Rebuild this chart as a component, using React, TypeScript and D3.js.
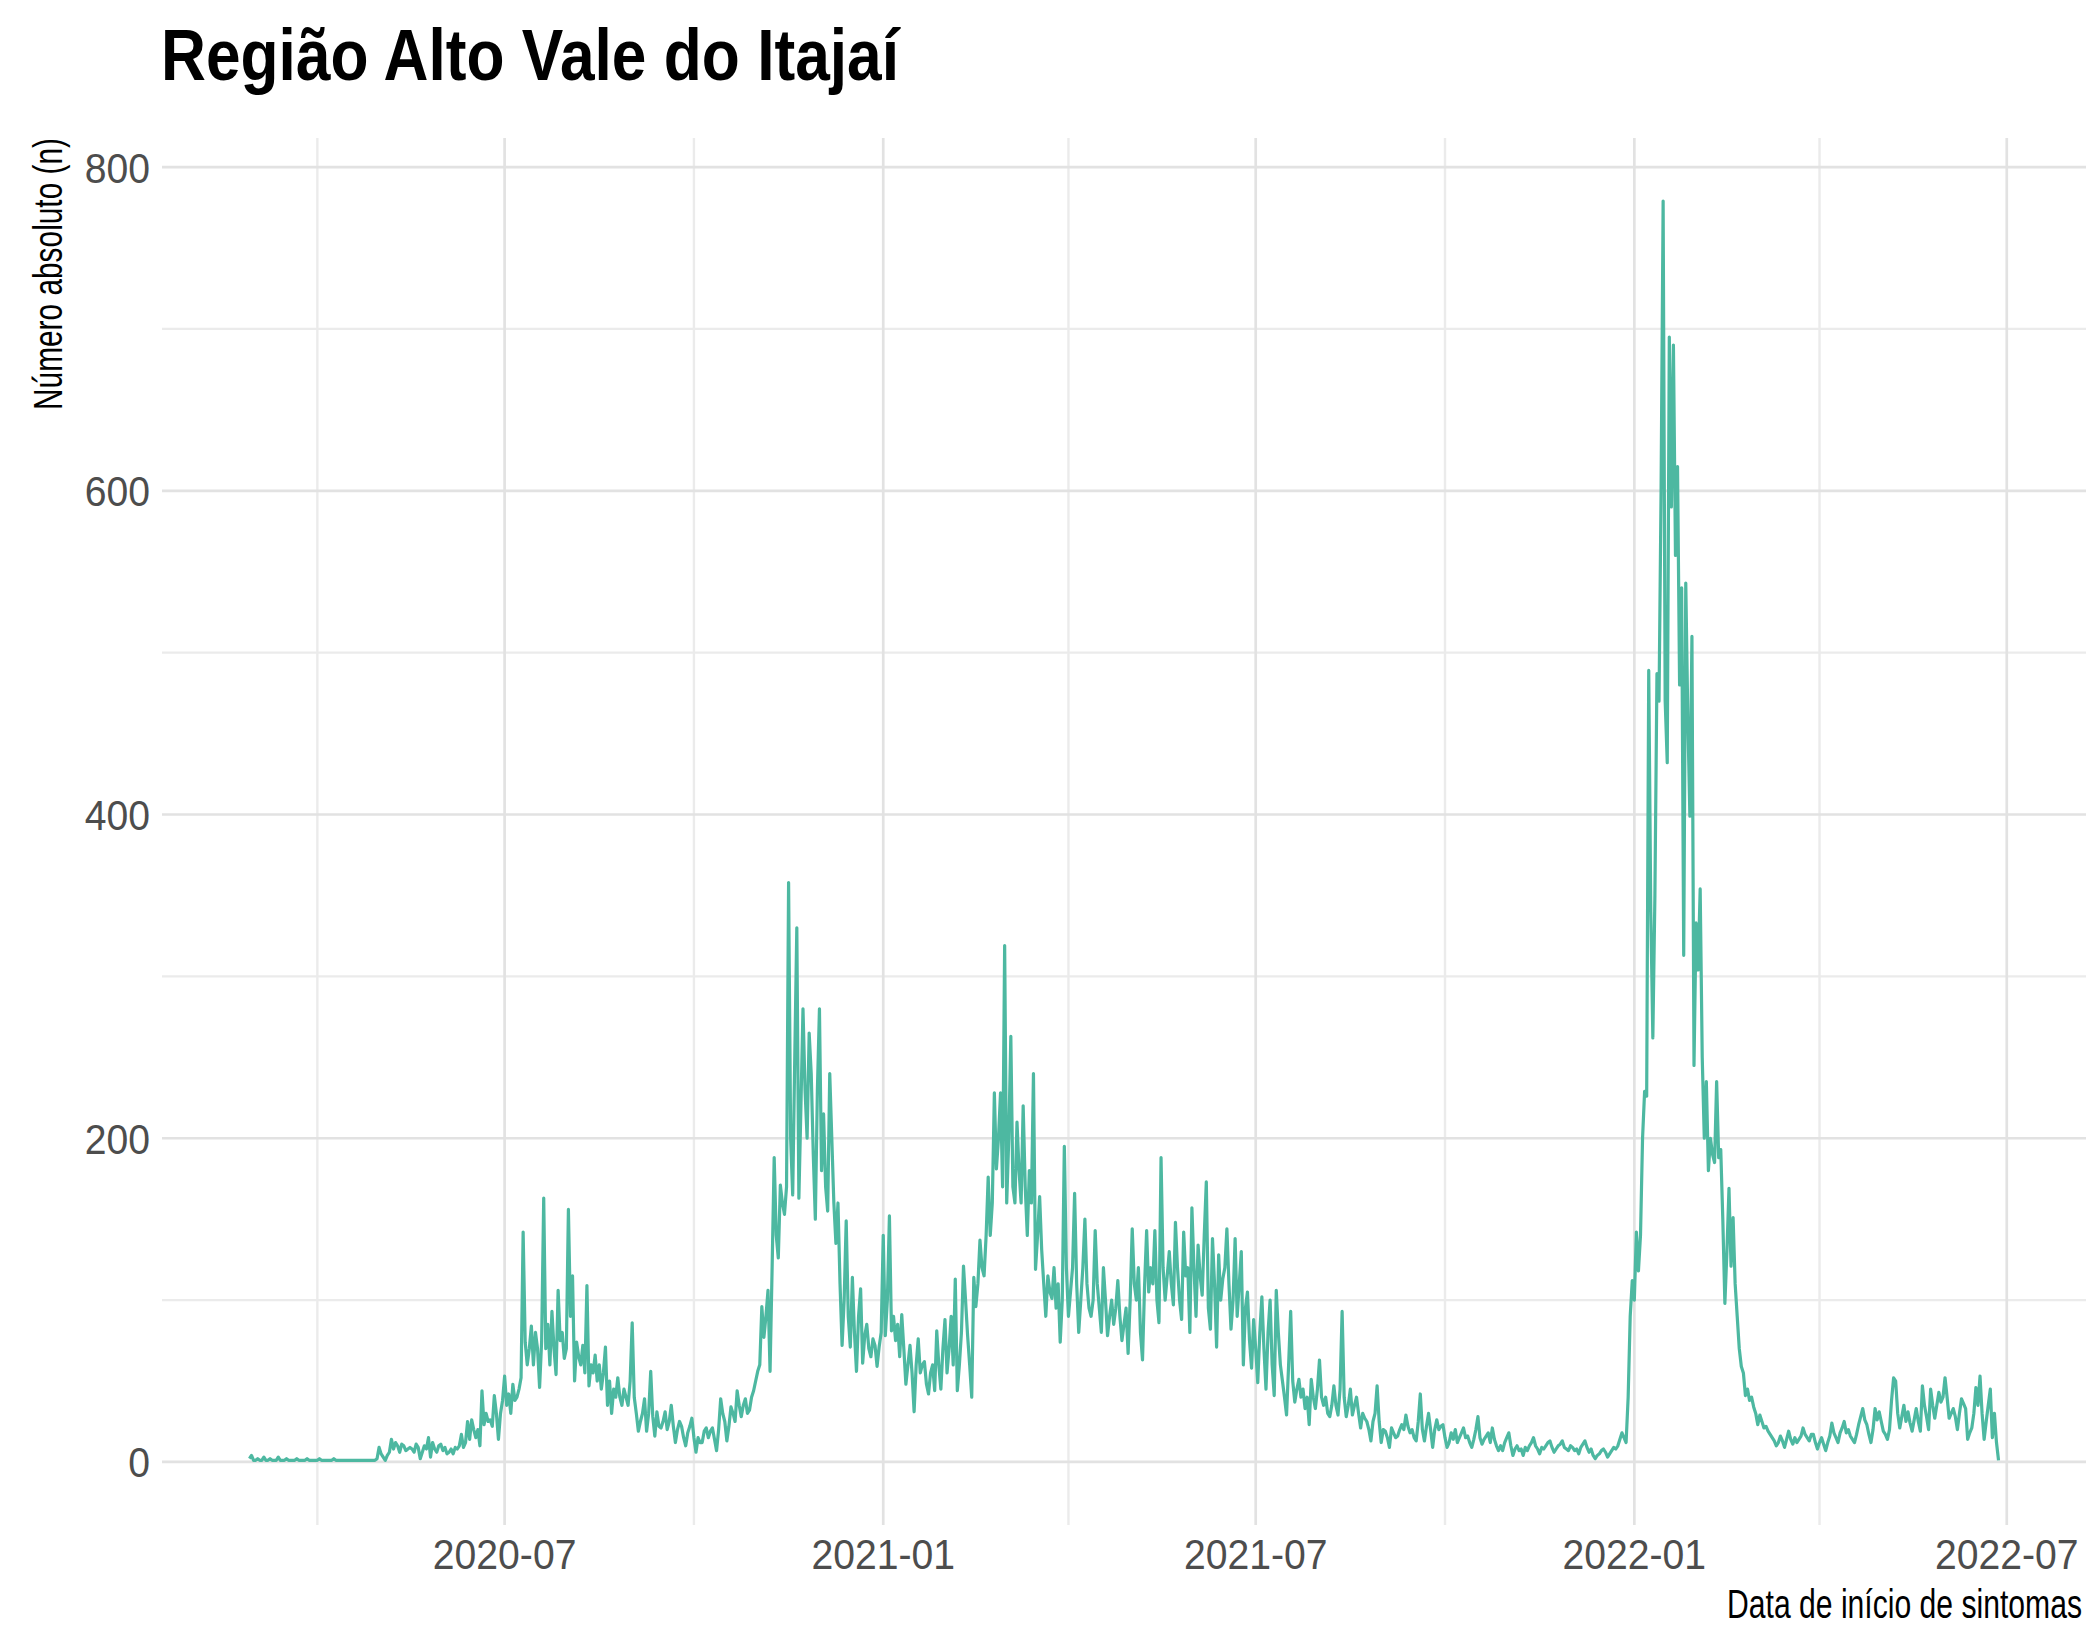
import React from "react";
import * as d3 from "d3";

// ---- data: daily counts, by period ----
const startA = "2020-02-28";
const casesA = [
  2,4,1,1,2,1,1,3,1,1, 2,1,1,1,3,1,1,1,2,1, 1,1,1,2,1,1,1,1,2,1, 1,1,1,1,2,1,1,1,1,1,
  1,2,1,1,1,1,1,1,1,1, 1,1,1,1,1,1,1,1,1,1, 1,1,
  2,9,5,3,1,4,6,14,8,12, 10,6,11,10,7,8,9,8,6,11, 9,2,6,10,8,15,3,12,8,6, 10,11,7,9,5,6,8,5,9,8,
  10,17,9,12,25,14,26,20,15,20, 10,44,23,30,25,26,22,41,30,14, 30,38,
];

const startB = "2020-07-01";
const casesB = [
  53,35,42,30,48,38,40,45,52,142, 74,60,70,84,60,80,70,46,75,163, 70,85,60,93,70,54,106,75,80,64,
  70,156,90,115,50,74,65,60,72,55, 109,47,60,55,66,50,60,45,55,71, 35,50,30,45,40,52,40,35,45,40,
  35,50,86,40,30,19,25,30,39,19, 30,56,28,16,31,22,21,25,31,20, 25,35,22,12,20,25,22,15,10,18,
  22,27,15,6,15,12,12,19,21,15, 19,21,14,7,20,39,30,25,13,22, 34,30,25,44,35,28,35,39,30,32,
  40,44,50,56,60,96,77,90,106,56, 120,188,140,126,171,160,153,170,358,200, 165,250,330,163,220,280,230,200,265,240,
  190,150,230,280,180,215,170,155,240,200, 160,135,160,110,72,100,149,90,71,114, 80,56,90,107,61,78,85,70,65,76,
  72,59,71,80,
];

const startC = "2021-01-01";
const casesC = [
  140,78,100,152,81,90,75,85,65,91, 70,48,60,72,55,31,60,76,55,60, 62,48,42,55,60,44,81,60,45,70,
  88,55,70,90,60,113,44,60,80,121, 100,78,60,40,114,96,110,137,120,115, 140,176,140,160,228,181,200,228,170,319,
  160,200,263,170,160,210,180,160,220,170, 140,180,160,240,119,140,164,131,110,90, 115,105,101,120,95,110,74,100,195,120,
  90,105,120,166,110,80,100,120,150,110, 95,90,100,143,110,95,80,120,100,78, 90,100,85,95,112,90,75,85,95,67,
  100,144,110,100,120,80,63,109,143,105, 120,110,143,100,86,188,120,100,115,130, 110,97,148,120,100,88,142,115,120,80,
  157,120,90,134,115,103,140,173,95,82, 138,110,71,128,100,113,120,144,110,82, 100,138,90,110,130,60,95,105,75,58,
  88,
];

const startD = "2021-07-01";
const casesD = [
  70,49,80,102,70,45,80,100,60,41, 106,80,60,50,40,29,60,93,50,37, 45,51,40,45,33,40,23,51,40,33,
  45,63,40,35,40,30,28,35,47,35, 29,45,93,40,28,35,45,29,35,40, 30,21,30,27,25,20,13,25,30,47,
  25,12,20,19,15,9,21,18,15,16, 20,23,20,29,22,18,20,15,13,25, 42,20,13,22,30,20,9,20,26,20,
  22,23,15,9,12,18,14,20,12,15, 18,21,15,16,12,9,14,20,28,15, 11,14,16,18,12,21,14,10,7,10,
  7,12,15,18,10,4,8,10,7,8, 4,9,7,10,12,15,10,8,5,9, 8,10,12,13,9,6,8,10,11,13,
  9,8,7,10,9,7,8,5,9,11, 13,9,6,8,4,2,4,5,7,8, 6,3,5,7,9,8,10,14,18,15,
  12,40,90,112,
];

const startE = "2022-01-01";
const casesE = [
  100,142,118,140,200,229,226,489,340,262, 350,487,470,600,779,470,432,695,590,690,
  560,615,480,540,313,543,460,399,510,245, 333,304,354,250,200,235,180,200,190,185,
  235,188,193,150,98,130,169,121,151,110, 90,70,59,55,41,45,38,40,34,30,
  23,29,25,21,22,19,17,15,13,10, 12,16,13,9,14,19,14,11,15,12, 14,16,21,17,15,13,17,17,12,8,
  12,15,11,7,12,16,24,18,15,12, 18,21,25,18,20,16,14,12,17,23, 28,33,26,23,17,12,20,33,26,31,
  25,19,17,14,20,38,52,50,30,21, 28,35,25,31,24,19,26,33,25,19, 47,35,28,20,45,35,27,35,43,37,
  40,52,40,27,30,33,28,20,30,39, 36,33,14,18,21,30,46,35,53,30, 14,25,35,45,15,30,12,1,
];

const periods: [string, number[]][] = [
  [startA, casesA], [startB, casesB], [startC, casesC], [startD, casesD], [startE, casesE],
];

const majorDates = ["2020-07-01", "2021-01-01", "2021-07-01", "2022-01-01", "2022-07-01"];
const minorDates = ["2020-04-01", "2020-10-01", "2021-04-01", "2021-10-01", "2022-04-01"];
const yMajor = [0, 200, 400, 600, 800];
const yMinor = [100, 300, 500, 700];

const title = "Região Alto Vale do Itajaí";
const xTitle = "Data de início de sintomas";
const yTitle = "Número absoluto (n)";

// ---- layout ----
const W = 2096, H = 1628;
const panel = { left: 162, right: 2086, top: 138, bottom: 1525 };
const lineColor = "#4DB8A1";
const font = "'Liberation Sans', Arial, Helvetica, sans-serif";

const parse = d3.utcParse("%Y-%m-%d");

type Pt = { date: Date; value: number };
const data: Pt[] = [];
periods.forEach(([s, vals]) => {
  const st = parse(s)!;
  vals.forEach((v, i) => data.push({ date: d3.utcDay.offset(st, i), value: v }));
});
data.sort((a, b) => +a.date - +b.date);

const [dMin, dMax] = d3.extent(data, (d) => +d.date) as [number, number];
const dPad = (dMax - dMin) * 0.05;
const x = d3.scaleUtc().domain([new Date(dMin - dPad), new Date(dMax + dPad)]).range([panel.left, panel.right]);
const vMax = d3.max(data, (d) => d.value)!;
const vPad = vMax * 0.05;
const y = d3.scaleLinear().domain([-vPad, vMax + vPad]).range([panel.bottom, panel.top]);

const line = d3.line<Pt>().x((d) => x(d.date)).y((d) => y(d.value));
const fmt = d3.utcFormat("%Y-%m");

export default function App() {
  return (
    <svg width={W} height={H} style={{ position: "absolute", left: 0, top: 0, background: "#fff" }} fontFamily={font}>
      <rect x={0} y={0} width={W} height={H} fill="#fff" />
      {/* minor grid */}
      {yMinor.map((v) => (
        <line key={"ym" + v} x1={panel.left} x2={panel.right} y1={y(v)} y2={y(v)} stroke="#EBEBEB" strokeWidth={2.4} />
      ))}
      {minorDates.map((s) => (
        <line key={"xm" + s} x1={x(parse(s)!)} x2={x(parse(s)!)} y1={panel.top} y2={panel.bottom} stroke="#EBEBEB" strokeWidth={2.4} />
      ))}
      {/* major grid */}
      {yMajor.map((v) => (
        <line key={"yM" + v} x1={panel.left} x2={panel.right} y1={y(v)} y2={y(v)} stroke="#E2E2E2" strokeWidth={2.7} />
      ))}
      {majorDates.map((s) => (
        <line key={"xM" + s} x1={x(parse(s)!)} x2={x(parse(s)!)} y1={panel.top} y2={panel.bottom} stroke="#E2E2E2" strokeWidth={2.7} />
      ))}
      {/* series */}
      <path d={line(data)!} fill="none" stroke={lineColor} strokeWidth={3.2} strokeLinejoin="round" />
      {/* y tick labels */}
      {yMajor.map((v) => (
        <text key={"yl" + v} transform={`translate(150,${y(v) + 15.5}) scale(0.91,1)`} textAnchor="end" fontSize={43} fill="#4D4D4D">
          {v}
        </text>
      ))}
      {/* x tick labels */}
      {majorDates.map((s) => (
        <text key={"xl" + s} transform={`translate(${x(parse(s)!)},1569) scale(0.91,1)`} textAnchor="middle" fontSize={43} fill="#4D4D4D">
          {fmt(parse(s)!)}
        </text>
      ))}
      {/* axis titles */}
      <text x={2082} y={1618} textAnchor="end" fontSize={40} fill="#000" textLength={355} lengthAdjust="spacingAndGlyphs">
        {xTitle}
      </text>
      <text transform="translate(61.5,138) rotate(-90)" textAnchor="end" fontSize={40} fill="#000" textLength={272} lengthAdjust="spacingAndGlyphs">
        {yTitle}
      </text>
      {/* title */}
      <text x={161} y={80} fontSize={72} fontWeight="bold" fill="#000" textLength={738} lengthAdjust="spacingAndGlyphs">
        {title}
      </text>
    </svg>
  );
}
